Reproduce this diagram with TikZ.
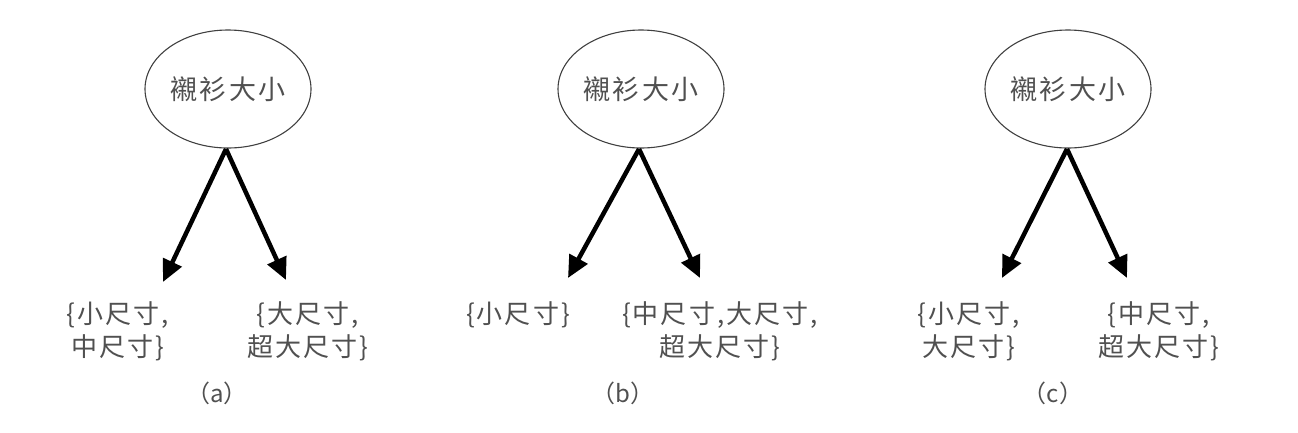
\documentclass[tikz,border=0pt]{standalone}
\usepackage{fontspec}
\newfontfamily\cjk{Noto Sans CJK TC}
\newfontfamily\cjkw[LetterSpace=8]{Noto Sans CJK TC}
\usetikzlibrary{shapes.geometric,arrows.meta}
\definecolor{txt}{HTML}{505050}
\begin{document}
\begin{tikzpicture}[x=1pt,y=-1pt,
  root/.style={ellipse,draw=black!75,line width=1.1pt,minimum width=166pt,minimum height=118pt,inner sep=0pt,text=txt,font=\cjkw\fontsize{27}{30}\selectfont},
  leaf/.style={align=center,text=txt,inner sep=0pt,font=\cjkw\fontsize{26}{33}\selectfont},
  captxt/.style={text=txt,inner sep=0pt,font=\cjk\fontsize{24}{26}\selectfont},
  arr/.style={line width=4.5pt,-{Triangle[length=22pt,width=20pt]}}]
\useasboundingbox (0,0) rectangle (1298,432);
% (a)
\node[root] (ea) at (228,89) {襯衫大小};
\coordinate (ta) at (226,149);
\coordinate (la) at (163,282);
\coordinate (ra) at (286,280);
\draw[arr] (ta) -- (la);
\draw[arr] (ta) -- (ra);
\node[leaf] (a1) at (118,331) {\{小尺寸,\\中尺寸\}};
\node[leaf] (a2) at (308,331) {\{大尺寸,\\超大尺寸\}};
\node[captxt] (ca) at (217,393) {（a）};
% (b)
\node[root] (eb) at (641,89) {襯衫大小};
\coordinate (tb) at (639,149);
\coordinate (lb) at (568,278);
\coordinate (rb) at (700,278);
\draw[arr] (tb) -- (lb);
\draw[arr] (tb) -- (rb);
\node[leaf] (b1) at (518,315) {\{小尺寸\}};
\node[leaf] (b2) at (720,331) {\{中尺寸,大尺寸,\\超大尺寸\}};
\node[captxt] (cb) at (623,393) {（b）};
% (c)
\node[root] (ec) at (1068,89) {襯衫大小};
\coordinate (tc) at (1067,149);
\coordinate (lc) at (1002,278);
\coordinate (rc) at (1127,278);
\draw[arr] (tc) -- (lc);
\draw[arr] (tc) -- (rc);
\node[leaf] (c1) at (969,331) {\{小尺寸,\\大尺寸\}};
\node[leaf] (c2) at (1159,331) {\{中尺寸,\\超大尺寸\}};
\node[captxt] (cc) at (1053,393) {（c）};
\end{tikzpicture}
\end{document}
